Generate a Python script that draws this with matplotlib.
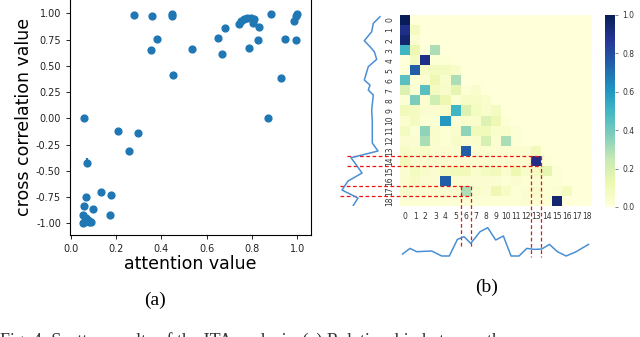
import numpy as np
import matplotlib
matplotlib.use("Agg")
import matplotlib.pyplot as plt

# ---- data (a): scatter ----
attention = [0.28, 0.36, 0.449, 0.446, 0.383, 0.356, 0.453, 0.534, 0.65, 0.667,
             0.68, 0.743, 0.75, 0.765, 0.78, 0.795, 0.81, 0.805, 0.787, 0.83,
             0.828, 0.886, 0.873, 0.93, 0.946, 0.986, 0.993, 0.998, 0.993,
             0.059, 0.071, 0.21, 0.299, 0.258, 0.135, 0.18, 0.066, 0.059, 0.099,
             0.172, 0.056, 0.059, 0.077, 0.088, 0.056, 0.066, 0.081]
crosscorr = [0.98, 0.975, 0.99, 0.97, 0.76, 0.65, 0.41, 0.66, 0.77, 0.61,
             0.86, 0.90, 0.93, 0.95, 0.96, 0.96, 0.95, 0.91, 0.667, 0.87,
             0.75, 0.99, 0.0, 0.38, 0.76, 0.93, 0.97, 0.99, 0.75,
             0.0, -0.42, -0.12, -0.14, -0.31, -0.70, -0.73, -0.75, -0.83, -0.86,
             -0.92, -0.92, -0.99, -0.97, -0.99, -1.0, -0.95, -0.99]
err_idx = [30, 35, 23, 38]
err_x = [0.006, 0.008, 0.006, 0.006]
err_y = [0.04, 0.03, 0.03, 0.03]

# ---- data (b): attention matrix (lower triangle rows) ----
rows = [
    [1.0],
    [0.9, 0.08],
    [0.95, 0.03, 0.0],
    [0.5, 0.12, 0.0, 0.3],
    [0.0, 0.08, 0.9, 0.02, 0.02],
    [0.0, 0.75, 0.06, 0.08, 0.08, 0.05],
    [0.45, 0.02, 0.03, 0.12, 0.04, 0.3, 0.0],
    [0.18, 0.02, 0.45, 0.08, 0.05, 0.15, 0.02, 0.04],
    [0.02, 0.38, 0.03, 0.22, 0.12, 0.02, 0.06, 0.06, 0.04],
    [0.1, 0.08, 0.03, 0.03, 0.05, 0.5, 0.18, 0.08, 0.04, 0.08],
    [0.03, 0.08, 0.02, 0.02, 0.6, 0.02, 0.04, 0.04, 0.18, 0.12, 0.02],
    [0.08, 0.02, 0.35, 0.04, 0.02, 0.04, 0.35, 0.1, 0.1, 0.04, 0.04, 0.02],
    [0.03, 0.03, 0.3, 0.04, 0.02, 0.06, 0.03, 0.04, 0.2, 0.03, 0.3, 0.02, 0.0],
    [0.06, 0.04, 0.06, 0.03, 0.03, 0.03, 0.75, 0.03, 0.03, 0.03, 0.03, 0.03, 0.03, 0.1],
    [0.1, 0.03, 0.03, 0.03, 0.03, 0.03, 0.03, 0.03, 0.03, 0.03, 0.03, 0.03, 0.03, 0.9, 0.02],
    [0.03, 0.08, 0.05, 0.03, 0.08, 0.1, 0.1, 0.04, 0.08, 0.1, 0.04, 0.12, 0.05, 0.08, 0.15, 0.02],
    [0.03, 0.06, 0.03, 0.03, 0.75, 0.03, 0.03, 0.03, 0.03, 0.03, 0.02, 0.03, 0.02, 0.03, 0.02, 0.02, 0.0],
    [0.05, 0.03, 0.03, 0.03, 0.03, 0.03, 0.3, 0.05, 0.03, 0.12, 0.06, 0.02, 0.03, 0.05, 0.02, 0.03, 0.08, 0.0],
    [0.02, 0.02, 0.02, 0.02, 0.02, 0.02, 0.02, 0.02, 0.02, 0.02, 0.02, 0.02, 0.03, 0.02, 0.02, 0.95, 0.0, 0.0, 0.0],
]
labels = [str(i) for i in range(19)]

# side curves (position along sequence, value)
left_pos = [0.17, 0.83, 1.66, 2.56, 3.15, 3.65, 4.41, 5.14, 6.47, 6.97, 7.46, 7.96,
            9.45, 10.6, 11.74, 12.74, 13.53, 14.2, 14.73, 15.72, 16.52, 17.41, 18.21, 19.0]
left_val = [4.5, 3.83, 3.67, 2.93, 3.5, 3.93, 4.17, 3.33, 2.93, 3.5, 3.33, 3.83,
            3.67, 3.73, 3.73, 3.73, 4.3, 1.6, 2.0, 2.7, 1.3, 0.7, 2.3, 1.8]
bot_pos = [0.26, 0.99, 1.65, 3.13, 4.13, 4.88, 5.68, 6.34, 7.0, 7.92, 8.68, 9.47,
           10.23, 10.99, 11.78, 12.54, 13.3, 14.03, 14.79, 15.58, 16.44, 17.43, 18.65]
bot_val = [0.27, 0.83, 0.5, 0.57, 0.07, 0.07, 1.73, 2.0, 1.33, 2.5, 2.9, 1.67,
           2.07, 0.07, 0.07, 0.83, 0.73, 0.77, 1.23, 0.5, 0.07, 0.5, 1.23]

# highlighted cells (row, col, left end, bottom end)
marks = [(14, 13, -5.25, 24.1), (17, 6, -5.95, 23.2)]

W, H = 640, 337
fig = plt.figure(figsize=(6.4, 3.37), dpi=100)


def box(x0, y0, x1, y1):
    return [x0 / W, 1 - y1 / H, (x1 - x0) / W, (y1 - y0) / H]


blue = '#1f77b4'

# ---- (a) ----
ax = fig.add_axes(box(70, -2, 311, 235))
ax.scatter(attention, crosscorr, s=24, color=blue, zorder=3)
ax.errorbar([attention[i] for i in err_idx], [crosscorr[i] for i in err_idx],
            xerr=err_x, yerr=err_y, fmt='none', ecolor=blue, elinewidth=1.6, zorder=3)
ax.set_xlim(-0.003, 1.061)
ax.set_ylim(-1.11, 1.146)
ax.set_xticks([0.0, 0.2, 0.4, 0.6, 0.8, 1.0])
ax.set_yticks([-1.0, -0.75, -0.5, -0.25, 0.0, 0.25, 0.5, 0.75, 1.0])
ax.yaxis.set_major_formatter(matplotlib.ticker.FormatStrFormatter('%.2f'))
ax.xaxis.set_major_formatter(matplotlib.ticker.FormatStrFormatter('%.1f'))
ax.tick_params(labelsize=7, length=3, width=0.7, colors='#222222')
ax.set_xlabel('attention value', fontsize=12.5, labelpad=1)
ax.set_ylabel('cross correlation value', fontsize=12.5, labelpad=2)
for s in ax.spines.values():
    s.set_linewidth(0.8)

# ---- (b) heatmap ----
mat = np.zeros((19, 19))
for r, vals in enumerate(rows):
    mat[r, :len(vals)] = vals

hx = fig.add_axes(box(400, 15, 592, 206))
mesh = hx.pcolormesh(np.arange(20), np.arange(20), mat, cmap='YlGnBu', vmin=0, vmax=1)
hx.set_xlim(0, 19)
hx.set_ylim(19, 0)
hx.set_xticks(np.arange(19) + 0.5)
hx.set_xticklabels(labels)
hx.set_yticks(np.arange(19) + 0.5)
hx.set_yticklabels(labels, rotation=90, va='center')
hx.tick_params(length=0, labelsize=5.5, labelcolor='#333333', pad=4)
for s in hx.spines.values():
    s.set_visible(False)

cax = fig.add_axes(box(605, 15, 615, 207))
cb = fig.colorbar(mesh, cax=cax, ticks=[0, 0.2, 0.4, 0.6, 0.8, 1.0])
cb.outline.set_visible(False)
cax.tick_params(labelsize=5.5, length=2, width=0.5, colors='#555555', labelcolor='#333333')

line_c = '#4a8fd4'
lx = fig.add_axes(box(330, 15, 390, 206))
lx.plot(left_val, left_pos, color=line_c, lw=1.1)
lx.set_xlim(-0.5, 5.5)
lx.set_ylim(19, 0)
lx.axis('off')

bx = fig.add_axes(box(400, 220, 592, 262))
bx.plot(bot_pos, bot_val, color=line_c, lw=1.1)
bx.set_xlim(0, 19)
bx.set_ylim(-0.53, 3.67)
bx.axis('off')

# red dashed highlight lines
for r, c, left, bottom in marks:
    for yy in (r, r + 1):
        hx.plot([left, c + 1], [yy, yy], color='#ee1111', lw=0.9, ls=(0, (3, 2)),
                clip_on=False, zorder=5)
    for xx in (c, c + 1):
        hx.plot([xx, xx], [r, bottom], color='#ee1111', lw=0.9, ls=(0, (3, 2)),
                clip_on=False, zorder=5)

# captions
fig.text(155 / W, 1 - 300 / H, '(a)', fontsize=14, family='Liberation Serif',
         ha='center', va='center')
fig.text(487 / W, 1 - 287 / H, '(b)', fontsize=14, family='Liberation Serif',
         ha='center', va='center')
fig.text(0.0, 1 - 332 / H, 'Fig. 4: Scatter results of the ITA analysis. (a) Relationship between the',
         fontsize=13, family='Liberation Serif', ha='left', va='top', color='#333333')

fig.savefig('out.png', dpi=100)
